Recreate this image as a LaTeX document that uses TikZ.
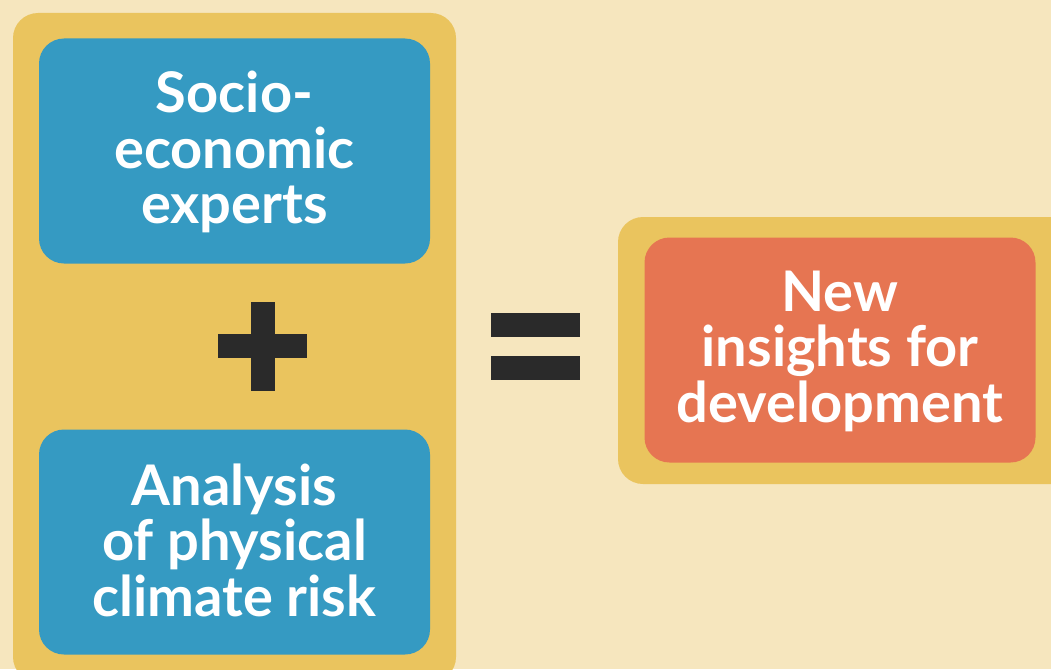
\documentclass[tikz,border=0pt]{standalone}
\usepackage{fontspec}
\setmainfont{Lato}
\definecolor{bgc}{HTML}{F6E6BE}
\definecolor{goldc}{HTML}{EAC45E}
\definecolor{bluec}{HTML}{359AC2}
\definecolor{redc}{HTML}{E67552}
\definecolor{darkc}{HTML}{2A2A2A}
\tikzset{
  x=1pt,y=-1pt,
  panel/.style={fill=goldc,draw=none,rounded corners=25pt},
  card/.style={draw=none,rounded corners=25pt,minimum width=391pt,minimum height=225pt,inner sep=0pt},
  bluecard/.style={card,fill=bluec},
  redcard/.style={card,fill=redc},
  cardtext/.style={text=white,align=center,font=\fontsize{56}{55.5}\selectfont\bfseries,inner sep=0pt},
  sym/.style={fill=darkc,draw=none}
}
\begin{document}
\begin{tikzpicture}
\useasboundingbox (0,0) rectangle (1051,669);
\fill[bgc] (0,0) rectangle (1051,669);
\begin{scope}
\clip (0,0) rectangle (1051,669);
\fill[panel] (13,13) rectangle (456,682);
\fill[panel] (618,217) rectangle (1076,484);
\end{scope}
\node[bluecard] (a) at (234.5,151) {};
\node[bluecard] (b) at (234.5,542) {};
\node[redcard] (c) at (840,350) {};
\node[cardtext] (at) at ([yshift=-1pt]a.center) {Socio-\\economic\\experts};
\node[cardtext] (bt) at ([yshift=2pt]b.center) {Analysis\\of physical\\climate risk};
\node[cardtext] (ct) at ([yshift=-1pt]c.center) {New\\insights for\\development};
\fill[sym] (251,302) rectangle (275,391);
\fill[sym] (218,334) rectangle (307,358);
\fill[sym] (491,313) rectangle (580,337);
\fill[sym] (491,356) rectangle (580,380);
\end{tikzpicture}
\end{document}
